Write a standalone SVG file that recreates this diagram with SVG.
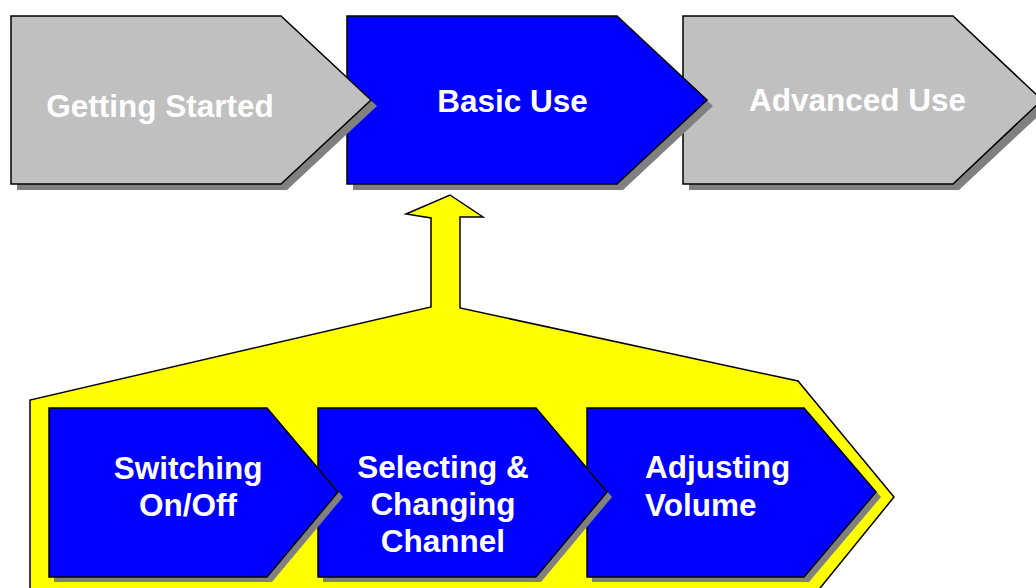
<svg xmlns="http://www.w3.org/2000/svg" width="1036" height="588" viewBox="0 0 1036 588">
<style>
.shadow{fill:#808080;stroke:none}
.gray{fill:#C0C0C0;stroke:#000;stroke-width:1.5;stroke-linejoin:miter}
.blue{fill:#0000FF;stroke:#000;stroke-width:1.5;stroke-linejoin:miter}
.call{fill:#FFFF00;stroke:#000;stroke-width:1.5;stroke-linejoin:miter}
.lbl{font-family:"Liberation Sans",Arial,sans-serif;font-weight:bold;font-size:31.5px;fill:#fff}
</style>
<rect width="1036" height="588" fill="#fff"/>
<g id="connectors">
<polygon class="call" points="450,195 483,217 460,217 460,308 798,381 894,497 812,598 30,598 30,400 431,307 431,218 406,214"/>
</g>
<g id="advanced-use">
<polygon class="shadow" points="689,22 959,22 1049,106 959,190 689,190"/>
<polygon class="gray" points="683,16 953,16 1042,100 953,184 683,184"/>
<text class="lbl" x="857.5" y="111" text-anchor="middle">Advanced Use</text>
</g>
<g id="basic-use">
<polygon class="shadow" points="353,22 623,22 713,106 623,190 353,190"/>
<polygon class="blue" points="347,16 617,16 707,100 617,184 347,184"/>
<text class="lbl" x="512.5" y="112" text-anchor="middle">Basic Use</text>
</g>
<g id="getting-started">
<polygon class="shadow" points="17,22 287,22 377,106 287,190 17,190"/>
<polygon class="gray" points="11,16 281,16 371,100 281,184 11,184"/>
<text class="lbl" x="160" y="117" text-anchor="middle">Getting Started</text>
</g>
<g id="adjusting-volume">
<polygon class="shadow" points="592,413 809,413 881,497 809,582 592,582"/>
<polygon class="blue" points="587,408 804,408 876,492 804,577 587,577"/>
<text class="lbl" x="645" y="478">Adjusting</text>
<text class="lbl" x="645" y="516">Volume</text>
</g>
<g id="selecting-changing-channel">
<polygon class="shadow" points="323,413 541,413 612,497 541,582 323,582"/>
<polygon class="blue" points="318,408 536,408 607,492 536,577 318,577"/>
<text class="lbl" x="443" y="478" text-anchor="middle">Selecting &amp;</text>
<text class="lbl" x="443" y="515" text-anchor="middle">Changing</text>
<text class="lbl" x="443" y="552" text-anchor="middle">Channel</text>
</g>
<g id="switching-on-off">
<polygon class="shadow" points="54,413 272,413 343,497 272,582 54,582"/>
<polygon class="blue" points="49,408 267,408 338,492 267,577 49,577"/>
<text class="lbl" x="188" y="479" text-anchor="middle">Switching</text>
<text class="lbl" x="188" y="516" text-anchor="middle">On/Off</text>
</g>
</svg>
